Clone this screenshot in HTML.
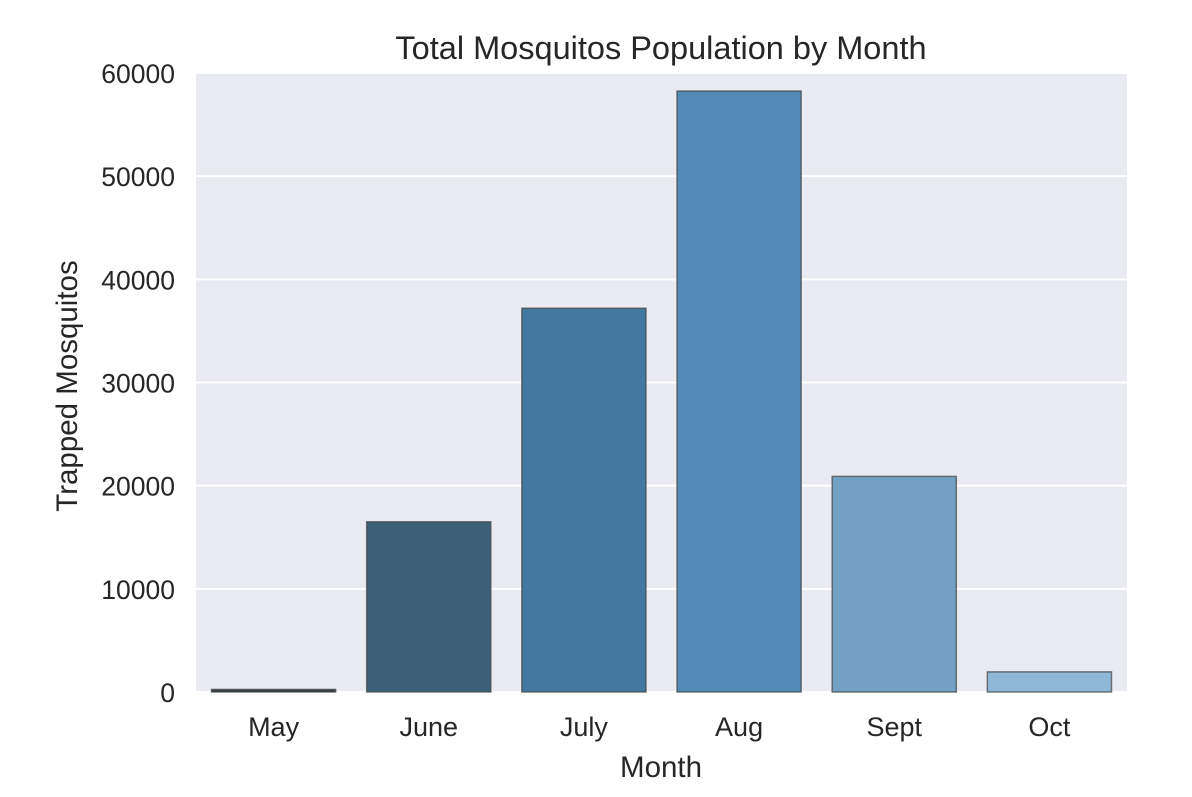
<!DOCTYPE html>
<html><head><meta charset="utf-8"><style>
body{margin:0;background:#fff;}
svg text{font-family:"Liberation Sans",sans-serif;fill:#262626;}
</style></head><body>
<svg width="1192" height="792">
<rect x="196" y="73" width="931" height="619" fill="#eaeaf2"/>
<g id="grid"></g><g id="bars"></g><g id="ticks"></g>
<text x="661" y="59" font-size="32.5" text-anchor="middle">Total Mosquitos Population by Month</text>
<text x="661" y="777" font-size="29.5" text-anchor="middle">Month</text>
<text transform="translate(77,386) rotate(-90)" font-size="29.5" text-anchor="middle">Trapped Mosquitos</text>
</svg>
<script>
const categories=["May","June","July","Aug","Sept","Oct"];
const values=[250,16500,37200,58250,20900,1950];
const colors=["#2f3e4b","#3d6079","#4378a0","#528bb6","#72a1c3","#8fb8d8"];
const yTicks=[0,10000,20000,30000,40000,50000,60000];
const X0=196,W=931,Y0=692,H=619,YMAX=60000;
const y=v=>Y0-v/YMAX*H;
const bw=W/categories.length;
const xc=i=>X0+bw*(i+0.5);
const ns="http://www.w3.org/2000/svg";
const g=document.getElementById('grid'),b=document.getElementById('bars'),t=document.getElementById('ticks');
yTicks.forEach(v=>{
 const l=document.createElementNS(ns,'line');
 l.setAttribute('x1',X0);l.setAttribute('x2',X0+W);l.setAttribute('y1',y(v));l.setAttribute('y2',y(v));
 l.setAttribute('stroke','#fff');l.setAttribute('stroke-width','2');
 
 
 g.appendChild(l);
 const tx=document.createElementNS(ns,'text');
 tx.setAttribute('x',X0-21);tx.setAttribute('y',y(v)+10);tx.setAttribute('font-size','26.5');tx.setAttribute('text-anchor','end');
 tx.textContent=v;
 
 
 t.appendChild(tx);
});
categories.forEach((c,i)=>{
 const r=document.createElementNS(ns,'rect');
 const w=bw*0.8;
 r.setAttribute('x',xc(i)-w/2);r.setAttribute('width',w);
 r.setAttribute('y',y(values[i]));r.setAttribute('height',Y0-y(values[i]));
 r.setAttribute('fill',colors[i]);r.setAttribute('stroke','#444');r.setAttribute('stroke-opacity','0.7');r.setAttribute('stroke-width','1.5');
 
 
 b.appendChild(r);
 const tx=document.createElementNS(ns,'text');
 tx.setAttribute('x',xc(i));tx.setAttribute('y',736);tx.setAttribute('font-size','27');tx.setAttribute('text-anchor','middle');
 tx.textContent=c;
 
 
 t.appendChild(tx);
});
</script>
</body></html>
